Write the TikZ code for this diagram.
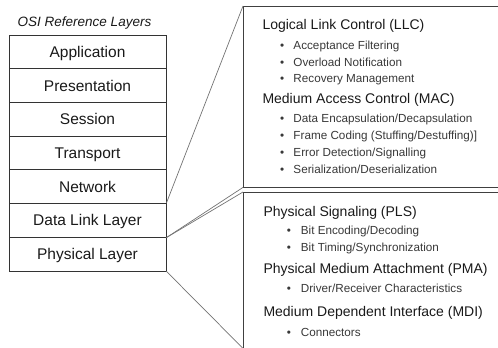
\documentclass[tikz,border=0pt]{standalone}
\usepackage{fontspec}
\setmainfont{Liberation Sans}
\newcommand\itmbul[2]{\makebox[#1][l]{\textbullet}#2}
\begin{document}
\begin{tikzpicture}[x=1pt,y=-1pt,
 layer/.style={draw=black!80, line width=0.8pt, minimum width=157pt, minimum height=33.7pt, inner sep=0pt, text height=11pt, text depth=0pt, font=\fontsize{15.5}{18}\selectfont, text=black!90},
 head/.style={anchor=base west, inner sep=0pt, font=\fontsize{14}{16}\selectfont, text=black!90},
 item/.style={anchor=base west, inner sep=0pt, font=\fontsize{11.7}{14}\selectfont, text=black!78},
 frame/.style={draw=black!75, line width=0.8pt},
 conn/.style={draw=black!55, line width=0.7pt}]
\useasboundingbox (0,0) rectangle (498,348);
% title
\node[anchor=base, inner sep=0pt, font=\fontsize{13.5}{16}\selectfont\itshape, text=black!90] (title) at (84.5,26) {OSI Reference Layers};
% stack
\node[layer] (app) at (87.5,51.85) {Application};
\node[layer] (pres) at (87.5,85.55) {Presentation};
\node[layer] (sess) at (87.5,119.25) {Session};
\node[layer] (trans) at (87.5,152.95) {Transport};
\node[layer] (net) at (87.5,186.65) {Network};
\node[layer] (dl) at (87.5,220.35) {Data Link Layer};
\node[layer] (phys) at (87.5,254.05) {Physical Layer};
% detail boxes
\node[anchor=north west, minimum width=255pt, minimum height=181pt, inner sep=0pt] (dlbox) at (243,6) {};
\node[anchor=north west, minimum width=255pt, minimum height=156pt, inner sep=0pt] (phbox) at (243,192) {};
\draw[frame] (dlbox.north east) -- (dlbox.north west) -- (dlbox.south west) -- (dlbox.south east);
\draw[frame] (phbox.north east) -- (phbox.north west) -- (phbox.south west);
% connectors
\draw[conn] (dl.north east) -- (dlbox.north west);
\draw[conn] (dl.south east) -- (dlbox.south west);
\draw[conn] (dl.south east) -- (phbox.north west);
\draw[conn] (phys.south east) -- (phbox.south west);
% data link texts
\node[head] (llc) at (262.3,29.3) {Logical Link Control (LLC)};
\node[item] (i1) at (280,49.3) {\itmbul{13.3pt}{Acceptance Filtering}};
\node[item] (i2) at (280,66) {\itmbul{13.3pt}{Overload Notification}};
\node[item] (i3) at (280,82.7) {\itmbul{13.3pt}{Recovery Management}};
\node[head] (mac) at (262.3,103.3) {Medium Access Control (MAC)};
\node[item] (i4) at (280,122.7) {\itmbul{13.3pt}{Data Encapsulation/Decapsulation}};
\node[item] (i5) at (280,139.3) {\itmbul{13.3pt}{Frame Coding (Stuffing/Destuffing)]}};
\node[item] (i6) at (280,156) {\itmbul{13.3pt}{Error Detection/Signalling}};
\node[item] (i7) at (280,173.3) {\itmbul{13.3pt}{Serialization/Deserialization}};
% physical texts
\node[head] (pls) at (263.3,216) {Physical Signaling (PLS)};
\node[item] (j1) at (286.6,234.3) {\itmbul{14.1pt}{Bit Encoding/Decoding}};
\node[item] (j2) at (286.6,251) {\itmbul{14.1pt}{Bit Timing/Synchronization}};
\node[head] (pma) at (263.3,273.3) {Physical Medium Attachment (PMA)};
\node[item] (j3) at (286.6,292.7) {\itmbul{14.1pt}{Driver/Receiver Characteristics}};
\node[head] (mdi) at (263.3,316) {Medium Dependent Interface (MDI)};
\node[item] (j4) at (286.6,336) {\itmbul{14.1pt}{Connectors}};
\end{tikzpicture}
\end{document}
